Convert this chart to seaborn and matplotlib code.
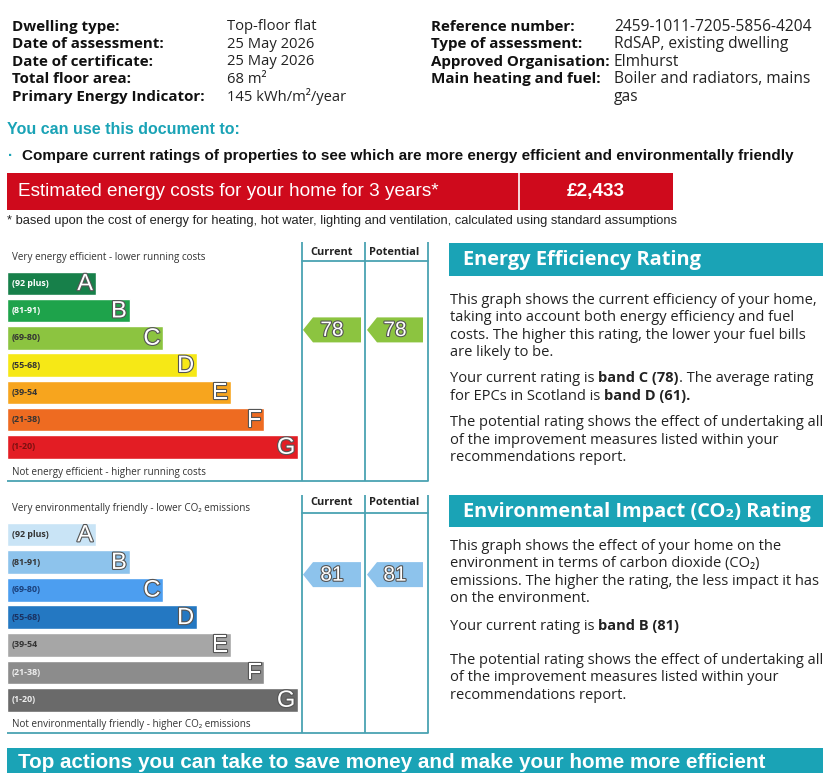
import matplotlib
matplotlib.use('Agg')
import matplotlib.pyplot as plt
import seaborn as sns
import pandas as pd
from matplotlib import patheffects as pe
from matplotlib.patches import Polygon, Rectangle

sns.set_theme(style='white')
plt.rcParams['font.family'] = ['Open Sans', 'DejaVu Sans']

# ---------------- data ----------------
bands = ['A', 'B', 'C', 'D', 'E', 'F', 'G']
band_ranges = ['(92 plus)', '(81-91)', '(69-80)', '(55-68)', '(39-54', '(21-38)', '(1-20)']
band_low = [92, 81, 69, 55, 39, 21, 1]
band_high = [100, 91, 80, 68, 54, 38, 20]
energy_colors = ['#17804a', '#1ea34b', '#8cc440', '#f6e816', '#f7a51e', '#ee6b21', '#e31d24']
env_colors = ['#c9e4f6', '#8dc3ec', '#4c9ef0', '#2478c2', '#a6a6a6', '#8c8c8c', '#6a6a6a']
energy_label_colors = ['#ffffff', '#ffffff', '#333333', '#333333', '#333333', '#333333', '#7a1010']
env_label_colors = ['#333333', '#333333', '#1a3f7a', '#1a3060', '#333333', '#eeeeee', '#eeeeee']
energy_current = 78
energy_potential = 78
env_current = 81
env_potential = 81

left_labels = ['Dwelling type:', 'Date of assessment:', 'Date of certificate:',
               'Total floor area:', 'Primary Energy Indicator:']
left_values = ['Top-floor flat', '25 May 2026', '25 May 2026', '68 m²', '145 kWh/m²/year']
right_labels = ['Reference number:', 'Type of assessment:', 'Approved Organisation:',
                'Main heating and fuel:']
right_values = ['2459-1011-7205-5856-4204', 'RdSAP, existing dwelling', 'Elmhurst',
                'Boiler and radiators, mains', 'gas']

cost_label = 'Estimated energy costs for your home for 3 years*'
cost_value = '£2,433'

NARROW = ['Liberation Sans', 'DejaVu Sans']
TEAL = '#1aa3b6'
LINE = '#4aa2b2'
W, H = 828, 773
fig = plt.figure(figsize=(W / 100, H / 100), dpi=100)
doc = fig.add_axes([0, 0, 1, 1])
doc.set_xlim(0, W)
doc.set_ylim(H, 0)
doc.axis('off')
renderer = fig.canvas.get_renderer()

# ---------------- header details ----------------
row_y0, row_dy = 27, 17.4
for i, (lab, val) in enumerate(zip(left_labels, left_values)):
    y = row_y0 + i * row_dy
    doc.text(12, y, lab, fontsize=10.9, fontweight='bold', va='center', color='#111111')
    doc.text(227, y, val, fontsize=10.6, va='center', color='#222222')
for i, lab in enumerate(right_labels):
    y = row_y0 + i * row_dy
    doc.text(431, y, lab, fontsize=10.9, fontweight='bold', va='center', color='#111111')
for i, val in enumerate(right_values):
    y = row_y0 + i * row_dy
    doc.text(614, y, val, fontsize=11.2, va='center', color='#222222')

# ---------------- use document ----------------
doc.text(7, 129, 'You can use this document to:', fontsize=11.5, fontweight='bold',
         family=NARROW, color=TEAL, va='center')
doc.text(8, 156, '·', fontsize=11, fontweight='bold', family=NARROW, color=TEAL, va='center')
doc.text(22, 156, 'Compare current ratings of properties to see which are more energy efficient '
         'and environmentally friendly', fontsize=11, fontweight='bold', family=NARROW,
         color='#111111', va='center')

# ---------------- cost bar ----------------
doc.add_patch(Rectangle((7, 173), 666, 37, facecolor='#cf0a1c', edgecolor='none'))
doc.plot([519, 519], [173, 210], color='white', lw=1.2)
doc.text(18, 191.5, cost_label, fontsize=13.7, family=NARROW, color='white', va='center')
doc.text(596, 191.5, cost_value, fontsize=13.7, family=NARROW, fontweight='bold',
         color='white', va='center', ha='center')
doc.text(7, 221, '* based upon the cost of energy for heating, hot water, lighting and ventilation, '
         'calculated using standard assumptions', fontsize=9.3, family=NARROW,
         color='#222222', va='center')


# ---------------- rating charts ----------------
def rating_row(r):
    for i, (lo, hi) in enumerate(zip(band_low, band_high)):
        if lo <= r <= hi:
            centre = (lo + hi) / 2
            return i + (centre - r) / (hi - lo + 1)
    return 6


def draw_chart(top, bot, yA, pitch, colors, lab_colors, top_text, bottom_text,
               header_y, top_text_y, line_top, header_line, bottom_y, cur, pot, arrow_color):
    ax = fig.add_axes([7 / W, 1 - bot / H, 433 / W, (bot - top) / H])
    ax.patch.set_alpha(0)

    def ry(px):
        return (px - yA) / pitch

    def rx(px):
        return px - 7

    lengths = [89 + 33.7 * i for i in range(len(bands))]
    df = pd.DataFrame({'band': bands, 'length': lengths})
    sns.barplot(data=df, x='length', y='band', hue='band', palette=colors, width=0.86,
                dodge=False, legend=False, saturation=1, ax=ax)
    ax.set_xlim(0, 433)
    ax.set_ylim(ry(bot), ry(top))
    ax.axis('off')

    stroke = [pe.withStroke(linewidth=1.6, foreground='#555555')]
    for i, (b, rng, L) in enumerate(zip(bands, band_ranges, lengths)):
        ax.text(rx(12), i, rng, fontsize=6.4, fontweight='bold', color=lab_colors[i],
                va='center', ha='left')
        ax.text(L - 3, i + 0.03, b, fontsize=17, color='white', va='center', ha='right',
                family=['Liberation Sans', 'DejaVu Sans'], path_effects=stroke)

    ax.text(rx(12), ry(top_text_y), top_text, fontsize=7.1, color='#333333', va='center')
    ax.text(rx(12), ry(bottom_y - 9), bottom_text, fontsize=7.1, color='#333333', va='center')

    cols = [302, 365, 428]
    for c in cols:
        ax.plot([rx(c), rx(c)], [ry(line_top), ry(bottom_y)], color=LINE, lw=1.3,
                clip_on=False, solid_capstyle='butt')
    ax.plot([rx(302), rx(428)], [ry(header_line), ry(header_line)], color=LINE, lw=1.3)
    ax.plot([rx(7), rx(428)], [ry(bottom_y), ry(bottom_y)], color=LINE, lw=1.3)
    ax.text(rx(331.5), ry(header_y), 'Current', fontsize=7.9, fontweight='bold',
            color='#222222', ha='center', va='center')
    ax.text(rx(394), ry(header_y), 'Potential', fontsize=7.9, fontweight='bold',
            color='#222222', ha='center', va='center')

    half = 12.5 / pitch
    for val, x0, x1 in [(cur, 303, 361), (pot, 367, 423)]:
        yc = rating_row(val)
        poly = Polygon([(rx(x0), yc), (rx(x0 + 10), yc - half), (rx(x1), yc - half),
                        (rx(x1), yc + half), (rx(x0 + 10), yc + half)], closed=True,
                       facecolor=arrow_color, edgecolor='none')
        ax.add_patch(poly)
        ax.text(rx((x0 + x1) / 2), yc + 0.02, str(val), fontsize=15, color='white',
                ha='center', va='center', family=['Liberation Sans', 'DejaVu Sans'],
                path_effects=stroke)
    return ax


draw_chart(238, 486, 283.3, 27.28, energy_colors, energy_label_colors,
           'Very energy efficient - lower running costs',
           'Not energy efficient - higher running costs',
           header_y=252, top_text_y=257, line_top=242, header_line=261, bottom_y=481,
           cur=energy_current, pot=energy_potential,
           arrow_color=energy_colors[bands.index('C')])

draw_chart(490, 738, 534.5, 27.58, env_colors, env_label_colors,
           'Very environmentally friendly - lower CO₂ emissions',
           'Not environmentally friendly - higher CO₂ emissions',
           header_y=503, top_text_y=508, line_top=495, header_line=513, bottom_y=733,
           cur=env_current, pot=env_potential,
           arrow_color=env_colors[bands.index('B')])


# ---------------- right column ----------------
BODY = 10.5


def rich_line(x, y, segments, size=BODY, color='#222222'):
    cur = x
    for txt, w in segments:
        t = doc.text(cur, y, txt, fontsize=size, fontweight=w, va='center', ha='left',
                     color=color)
        cur += t.get_window_extent(renderer).width


def title_box(y0, h, text):
    doc.add_patch(Rectangle((449, y0), 374, h, facecolor=TEAL, edgecolor='none'))
    doc.text(463, y0 + h / 2 + 0.5, text, fontsize=14.4, fontweight='bold', color='white',
             va='center')


title_box(243, 33, 'Energy Efficiency Rating')
para1 = ['This graph shows the current efficiency of your home,',
         'taking into account both energy efficiency and fuel',
         'costs. The higher this rating, the lower your fuel bills',
         'are likely to be.']
for i, ln in enumerate(para1):
    rich_line(450, 300 + i * 17.6, [(ln, 'normal')])
rich_line(450, 378, [('Your current rating is ', 'normal'), ('band C (78)', 'bold'),
                     ('. The average rating', 'normal')])
rich_line(450, 396, [('for EPCs in Scotland is ', 'normal'), ('band D (61).', 'bold')])
para3 = ['The potential rating shows the effect of undertaking all',
         'of the improvement measures listed within your',
         'recommendations report.']
for i, ln in enumerate(para3):
    rich_line(450, 423 + i * 17.2, [(ln, 'normal')])

title_box(495, 32, 'Environmental Impact (CO₂) Rating')
para4 = ['This graph shows the effect of your home on the',
         'environment in terms of carbon dioxide (CO₂)',
         'emissions. The higher the rating, the less impact it has',
         'on the environment.']
for i, ln in enumerate(para4):
    rich_line(450, 546 + i * 17.6, [(ln, 'normal')])
rich_line(450, 626, [('Your current rating is ', 'normal'), ('band B (81)', 'bold')])
for i, ln in enumerate(para3):
    rich_line(450, 660 + i * 17.6, [(ln, 'normal')])

# ---------------- bottom banner ----------------
doc.add_patch(Rectangle((7, 748), 816, 30, facecolor=TEAL, edgecolor='none'))
doc.text(18, 763, 'Top actions you can take to save money and make your home more efficient',
         fontsize=14.9, fontweight='bold', family=NARROW, color='white', va='center')

fig.savefig('out.png', dpi=100)
